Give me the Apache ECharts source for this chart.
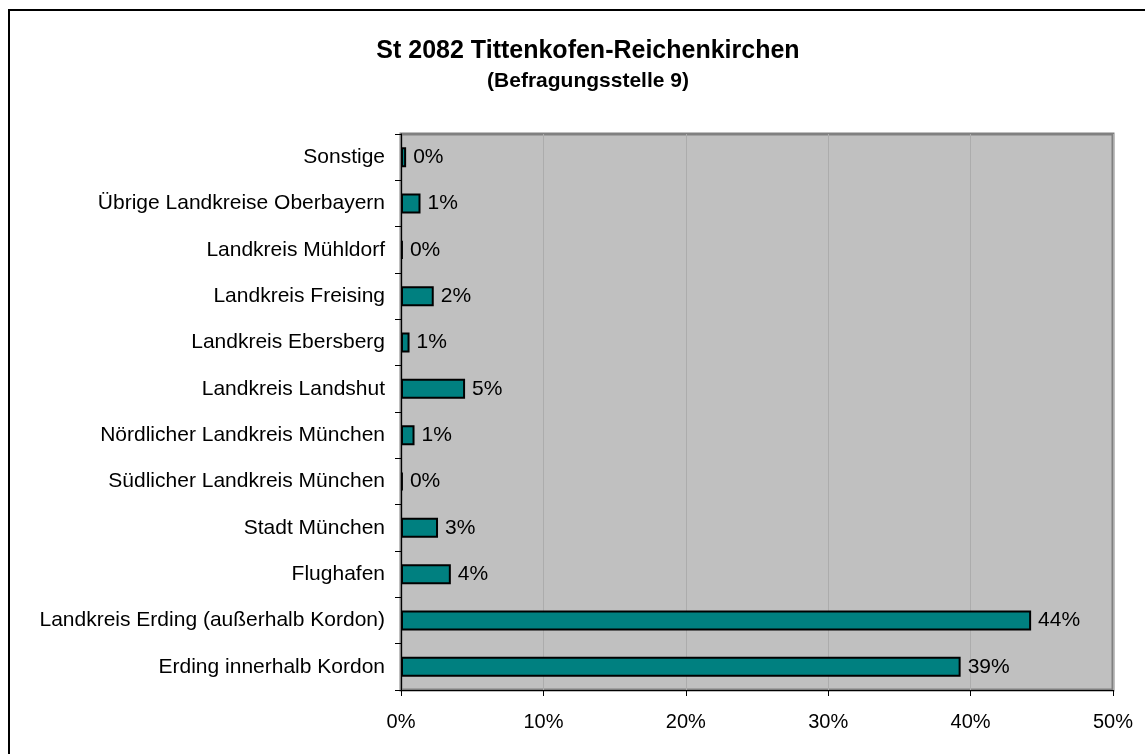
<!DOCTYPE html>
<head>
    <meta charset="utf-8">
    <title>St 2082 Tittenkofen-Reichenkirchen</title>
    <script src="https://cdn.jsdelivr.net/npm/echarts@6/dist/echarts.min.js"></script>
    <style>
        html, body { margin: 0; padding: 0; background: #fff; }
    </style>
</head>
<body>
    <div id="main" style="width:1145px;height:754px"></div>
    <script type="text/javascript">
        // Reihenfolge von unten nach oben (wie im Original)
        var kategorien = [
            'Erding innerhalb Kordon',
            'Landkreis Erding (außerhalb Kordon)',
            'Flughafen',
            'Stadt München',
            'Südlicher Landkreis München',
            'Nördlicher Landkreis München',
            'Landkreis Landshut',
            'Landkreis Ebersberg',
            'Landkreis Freising',
            'Landkreis Mühldorf',
            'Übrige Landkreise Oberbayern',
            'Sonstige'
        ];
        var anteile = [39.3, 44.25, 3.5, 2.6, 0.13, 0.95, 4.5, 0.6, 2.3, 0.13, 1.37, 0.36];
        var xTicks = [0, 10, 20, 30, 40, 50];

        var myChart = echarts.init(document.getElementById('main'));
        var fontFam = '"Liberation Sans", Arial, sans-serif';

        var option = {
            animation: false,
            title: {
                text: 'St 2082 Tittenkofen-Reichenkirchen',
                subtext: '(Befragungsstelle 9)',
                left: 583,
                top: 34,
                textAlign: 'center',
                itemGap: 7,
                textStyle: { fontFamily: fontFam, fontSize: 25, fontWeight: 'bold', color: '#000' },
                subtextStyle: { fontFamily: fontFam, fontSize: 21, fontWeight: 'bold', color: '#000' }
            },
            graphic: [{
                type: 'rect',
                shape: { x: 9, y: 10, width: 1200, height: 800 },
                style: { fill: 'none', stroke: '#000', lineWidth: 2 },
                silent: true
            }],
            grid: {
                left: 401,
                right: 32,
                top: 134,
                bottom: 64,
                show: true,
                backgroundColor: '#c0c0c0',
                borderColor: '#808080',
                borderWidth: 3
            },
            xAxis: {
                type: 'value',
                min: xTicks[0],
                max: xTicks[xTicks.length - 1],
                interval: 10,
                axisLine: { show: true, lineStyle: { color: '#000', width: 1 } },
                axisTick: { show: true, length: 6, lineStyle: { color: '#000' } },
                axisLabel: {
                    formatter: '{value}%',
                    fontFamily: fontFam, fontSize: 20, color: '#000', margin: 22
                },
                splitLine: { show: true, lineStyle: { color: '#acacac', width: 1 } }
            },
            yAxis: {
                type: 'category',
                data: kategorien,
                axisLine: { show: true, lineStyle: { color: '#000', width: 1 } },
                axisTick: { show: true, length: 6, lineStyle: { color: '#000' } },
                axisLabel: { fontFamily: fontFam, fontSize: 21, color: '#000', margin: 16 }
            },
            series: [{
                type: 'bar',
                data: anteile,
                barWidth: 20,
                itemStyle: { color: '#008080', borderColor: '#000', borderWidth: 2 },
                label: {
                    show: true,
                    position: 'right',
                    distance: 7,
                    fontFamily: fontFam,
                    fontSize: 21,
                    color: '#000',
                    formatter: function (p) { return Math.round(p.value) + '%'; }
                }
            }]
        };
        myChart.setOption(option);
    </script>
</body>
